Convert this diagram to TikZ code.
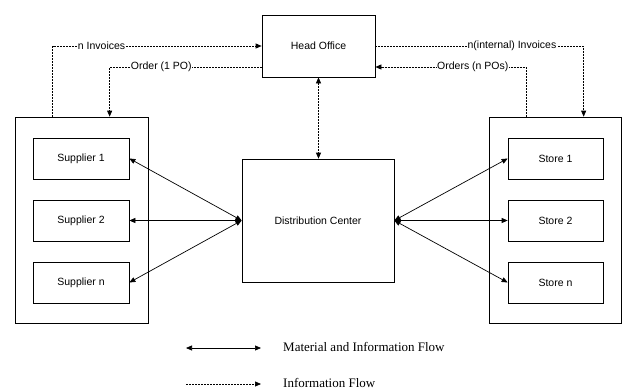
\documentclass[tikz,border=0pt]{standalone}
\usepackage{fontspec}
\setmainfont{Liberation Serif}
\setsansfont{Liberation Sans}
\usetikzlibrary{arrows.meta}
\begin{document}
\begin{tikzpicture}[x=1pt,y=-1pt,
  box/.style={draw, line width=0.7pt, inner sep=0pt,
    font=\sffamily\fontsize{10.5}{12}\selectfont},
  flow/.style={line width=0.7pt, {Triangle[length=6pt,width=5pt]}-{Triangle[length=6pt,width=5pt]}},
  info/.style={line width=0.7pt, dash pattern=on 2pt off 1pt, -{Triangle[length=6pt,width=5pt]}},
  lbl/.style={fill=white, inner sep=0.5pt, font=\sffamily\fontsize{10.5}{12}\selectfont},
  legend/.style={anchor=west, inner sep=0pt, font=\fontsize{13}{15}\selectfont}]
\useasboundingbox (0,0) rectangle (622,389);

% main blocks
\node[box, minimum width=113pt, minimum height=62pt] (ho) at (318.5,46) {Head Office};
\node[box, minimum width=152pt, minimum height=123pt] (dc) at (318,220.5) {Distribution Center};

% supplier group
\node[box, minimum width=133pt, minimum height=206pt] (lo) at (81.5,220) {};
\node[box, minimum width=96pt, minimum height=41pt] (s1) at (81,158.5) {Supplier 1};
\node[box, minimum width=96pt, minimum height=41pt] (s2) at (81,220.5) {Supplier 2};
\node[box, minimum width=96pt, minimum height=41pt] (sn) at (81,282.5) {Supplier n};

% store group
\node[box, minimum width=132pt, minimum height=206pt] (ro) at (555,220) {};
\node[box, minimum width=95pt, minimum height=41pt] (t1) at (555.5,158.5) {Store 1};
\node[box, minimum width=95pt, minimum height=41pt] (t2) at (555.5,220.5) {Store 2};
\node[box, minimum width=95pt, minimum height=41pt] (tn) at (555.5,282.5) {Store n};

% material and information flows
\draw[flow] (s1.east) -- (dc.west);
\draw[flow] (s2.east) -- (dc.west);
\draw[flow] (sn.east) -- (dc.west);
\draw[flow] (dc.east) -- (t1.west);
\draw[flow] (dc.east) -- (t2.west);
\draw[flow] (dc.east) -- (tn.west);

% information flows
\draw[info] ([xshift=38pt]lo.north west) |- node[lbl, pos=0.617] {n Invoices} (ho.west);
\draw[info] ([yshift=-21pt]ho.west) -| node[lbl, pos=0.33] {Order (1 PO)} ([xshift=95pt]lo.north west);
\draw[info] (ho.east) -| node[lbl, pos=0.328] {n(internal) Invoices} ([xshift=95pt]ro.north west);
\draw[info] ([xshift=38pt]ro.north west) |- node[lbl, pos=0.678] {Orders (n POs)} ([yshift=-21pt]ho.east);
\draw[info, {Triangle[length=6pt,width=5pt]}-{Triangle[length=6pt,width=5pt]}] (ho.south) -- (ho.south |- dc.north);

% legend
\coordinate (la) at (186,348);
\coordinate (lb) at (261,348);
\coordinate (lc) at (186,384);
\coordinate (ld) at (261,384);
\draw[flow] (la) -- (lb);
\draw[info] (lc) -- (ld);
\node[legend] (lt1) at (283,347) {Material and Information Flow};
\node[legend] (lt2) at (283,382.5) {Information Flow};
\end{tikzpicture}
\end{document}
